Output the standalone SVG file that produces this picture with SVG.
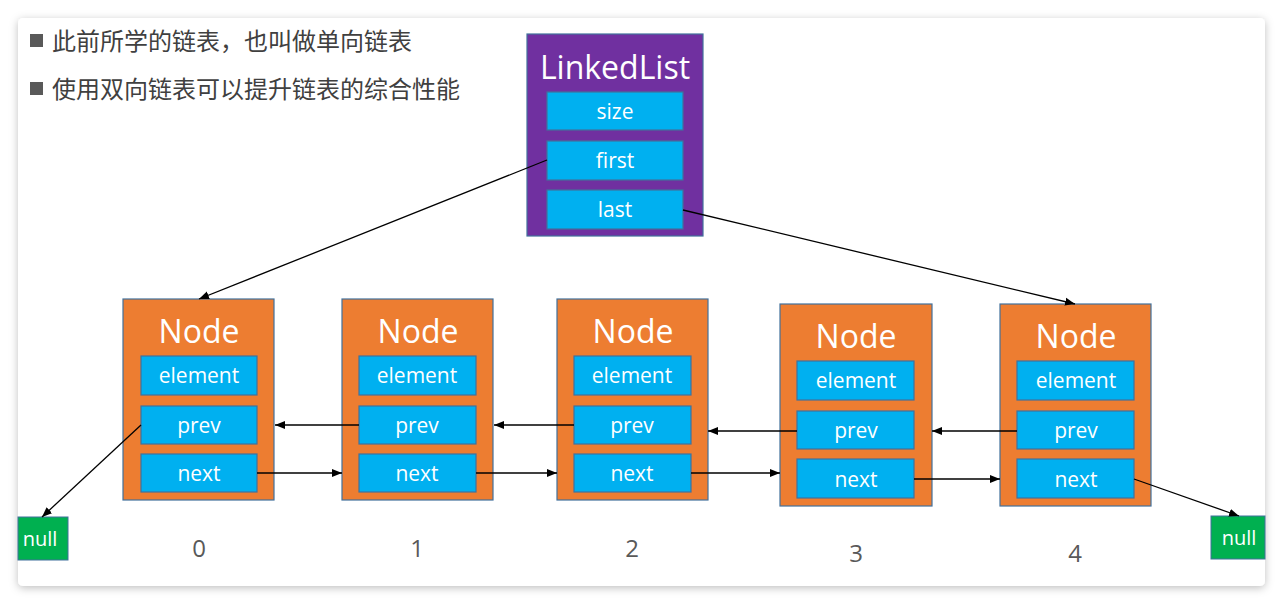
<svg xmlns="http://www.w3.org/2000/svg" width="1283" height="605" viewBox="0 0 1283 605">
<defs>
<filter id="sh" x="-5%" y="-5%" width="110%" height="110%"><feDropShadow dx="0" dy="2" stdDeviation="4" flood-color="#000" flood-opacity="0.25"/></filter>
<marker id="ah" viewBox="0 0 10 10" refX="10" refY="5" markerWidth="10" markerHeight="10" markerUnits="userSpaceOnUse" orient="auto"><path d="M0,1 L10,5 L0,9 z" fill="#000"/></marker>
<style>
.node{fill:#ED7D31;stroke:#41719C;stroke-width:1.2}
.ll{fill:#7030A0;stroke:#41719C;stroke-width:1.2}
.fld{fill:#00B0F0;stroke:#41719C;stroke-width:1.2}
.nul{fill:#00B050;stroke:#41719C;stroke-width:1}
.t{font-family:"Open Sans","Noto Sans",sans-serif;fill:#fff;text-anchor:middle}
.title{font-size:32px}
.f{font-size:21px}
.num{font-family:"Open Sans","Noto Sans",sans-serif;font-size:24px;fill:#595959;text-anchor:middle}
.bul{font-family:"Noto Sans CJK SC",sans-serif;font-size:24px;fill:#404040}
.c{stroke:#000;stroke-width:1.3;fill:none;marker-end:url(#ah)}
</style>
</defs>
<rect width="1283" height="605" fill="#fff"/>
<rect x="18" y="18" width="1247" height="568" rx="5" fill="#fff" filter="url(#sh)"/>
<g id="bullets">
<rect x="30" y="34" width="13" height="13" fill="#595959"/>
<text class="bul" x="52" y="50">此前所学的链表，也叫做单向链表</text>
<rect x="30" y="82" width="13" height="13" fill="#595959"/>
<text class="bul" x="52" y="98">使用双向链表可以提升链表的综合性能</text>
</g>
<g id="linkedlist">
<rect class="ll" x="527" y="34" width="176" height="202"/>
<text class="t title" x="615" y="79">LinkedList</text>
<rect class="fld" x="547" y="92" width="136" height="38"/>
<text class="t f" x="615" y="119">size</text>
<rect class="fld" x="547" y="141" width="136" height="39"/>
<text class="t f" x="615" y="168">first</text>
<rect class="fld" x="547" y="190" width="136" height="39"/>
<text class="t f" x="615" y="217">last</text>
</g>
<g id="node0">
<rect class="node" x="123" y="299" width="151" height="201"/>
<text class="t title" x="199" y="343">Node</text>
<rect class="fld" x="141" y="356" width="116" height="39"/>
<text class="t f" x="199" y="383">element</text>
<rect class="fld" x="141" y="406" width="116" height="38"/>
<text class="t f" x="199" y="433">prev</text>
<rect class="fld" x="141" y="454" width="116" height="38"/>
<text class="t f" x="199" y="481">next</text>
</g>
<g id="node1">
<rect class="node" x="342" y="299" width="151" height="201"/>
<text class="t title" x="418" y="343">Node</text>
<rect class="fld" x="359" y="356" width="117" height="39"/>
<text class="t f" x="417" y="383">element</text>
<rect class="fld" x="359" y="406" width="117" height="38"/>
<text class="t f" x="417" y="433">prev</text>
<rect class="fld" x="359" y="454" width="117" height="38"/>
<text class="t f" x="417" y="481">next</text>
</g>
<g id="node2">
<rect class="node" x="557" y="299" width="151" height="201"/>
<text class="t title" x="633" y="343">Node</text>
<rect class="fld" x="574" y="356" width="117" height="39"/>
<text class="t f" x="632" y="383">element</text>
<rect class="fld" x="574" y="406" width="117" height="38"/>
<text class="t f" x="632" y="433">prev</text>
<rect class="fld" x="574" y="454" width="117" height="38"/>
<text class="t f" x="632" y="481">next</text>
</g>
<g id="node3">
<rect class="node" x="780" y="304" width="152" height="202"/>
<text class="t title" x="856" y="348">Node</text>
<rect class="fld" x="797" y="361" width="117" height="39"/>
<text class="t f" x="856" y="388">element</text>
<rect class="fld" x="797" y="411" width="117" height="38"/>
<text class="t f" x="856" y="438">prev</text>
<rect class="fld" x="797" y="459" width="117" height="39"/>
<text class="t f" x="856" y="487">next</text>
</g>
<g id="node4">
<rect class="node" x="1000" y="304" width="151" height="202"/>
<text class="t title" x="1076" y="348">Node</text>
<rect class="fld" x="1017" y="361" width="117" height="39"/>
<text class="t f" x="1076" y="388">element</text>
<rect class="fld" x="1017" y="411" width="117" height="38"/>
<text class="t f" x="1076" y="438">prev</text>
<rect class="fld" x="1017" y="459" width="117" height="39"/>
<text class="t f" x="1076" y="487">next</text>
</g>
<g id="null-left">
<rect class="nul" x="18" y="517" width="50" height="43"/>
<text class="t f" x="40" y="546" style="font-size:20px">null</text>
</g>
<g id="null-right">
<rect class="nul" x="1211" y="516" width="54" height="43"/>
<text class="t f" x="1239" y="545" style="font-size:20px">null</text>
</g>
<g id="indices">
<text class="num" x="199" y="557">0</text>
<text class="num" x="417" y="557">1</text>
<text class="num" x="632" y="557">2</text>
<text class="num" x="856" y="562">3</text>
<text class="num" x="1075" y="562">4</text>
</g>
<g id="connectors">
<line class="c" x1="547" y1="160" x2="199" y2="299"/>
<line class="c" x1="683" y1="210" x2="1075" y2="304"/>
<line class="c" x1="141" y1="425" x2="42" y2="517"/>
<line class="c" x1="359" y1="425" x2="275" y2="425"/>
<line class="c" x1="257" y1="473" x2="342" y2="473"/>
<line class="c" x1="574" y1="425" x2="494" y2="425"/>
<line class="c" x1="476" y1="473" x2="557" y2="473"/>
<line class="c" x1="797" y1="431" x2="708" y2="431"/>
<line class="c" x1="691" y1="473" x2="780" y2="473"/>
<line class="c" x1="1017" y1="431" x2="932" y2="431"/>
<line class="c" x1="914" y1="479" x2="1000" y2="479"/>
<line class="c" x1="1134" y1="479" x2="1239" y2="516"/>
</g>
</svg>
